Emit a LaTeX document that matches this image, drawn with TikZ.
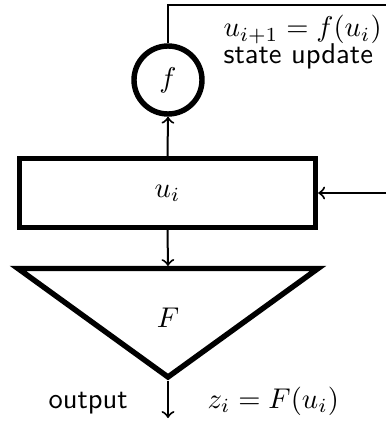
\documentclass[tikz,border=0pt]{standalone}
\begin{document}
\begin{tikzpicture}[x=0.35pt,y=-0.35pt,
  heavy/.style={line width=1.9pt},
  conn/.style={line width=0.7pt},
  arr/.style={conn,->},
  lbl/.style={anchor=base west,inner sep=0pt}]
\useasboundingbox (0,0) rectangle (386,422);
\node[circle,draw,heavy,minimum size=23.8pt,inner sep=0pt] (f) at (168,80) {$f$};
\node[draw,heavy,minimum width=103.6pt,minimum height=24.15pt,inner sep=0pt] (u) at (167.5,193) {$u_i$};
\coordinate (tl) at (18,268.5);
\coordinate (tr) at (318,268.5);
\coordinate (ap) at (168,377);
\coordinate (ttop) at (168,266);
\coordinate (apout) at (168,381);
\draw[heavy,line join=miter] (tl) -- (tr) -- (ap) -- cycle;
\node (F) at (168,318) {$F$};
\coordinate (top) at (168,5);
\coordinate (topr) at (386,5);
\coordinate (inr) at (386,193);
\coordinate (outend) at (168,418);
\draw[conn] (f.north) -- (top) -- (topr);
\draw[arr] (u.north) -- (f.south);
\draw[arr] (inr) -- (u.east);
\draw[arr] (u.south) -- (ttop);
\draw[arr] (apout) -- (outend);
\node[lbl] (eq) at (223,37) {$u_{i+1}=f(u_i)$};
\node[lbl] (su) at (223,64) {\sffamily state update};
\node[lbl] (out) at (48,408) {\sffamily output};
\node[lbl] (z) at (207,408) {$z_i=F(u_i)$};
\end{tikzpicture}
\end{document}
